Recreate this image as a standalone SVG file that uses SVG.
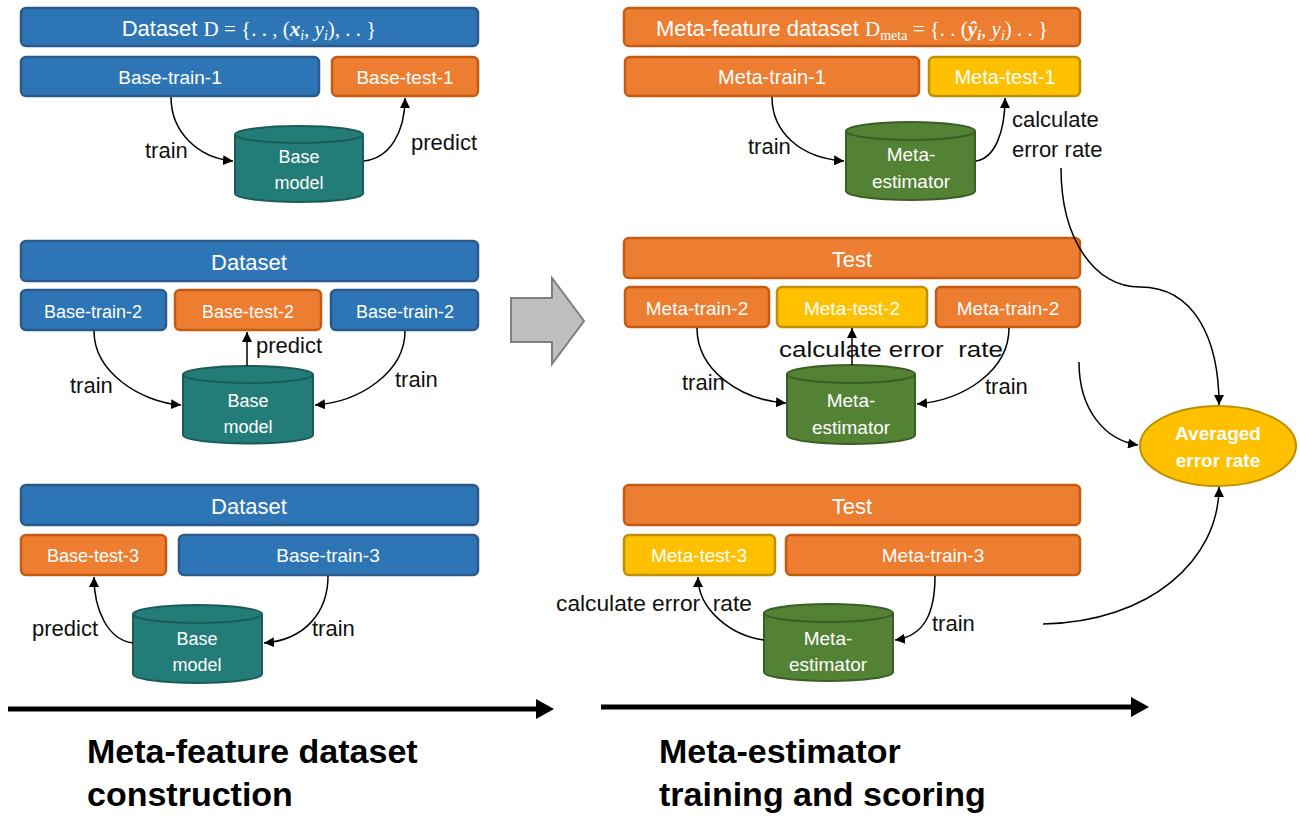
<svg xmlns="http://www.w3.org/2000/svg" width="1300" height="818" viewBox="0 0 1300 818">
<defs>
<marker id="ah" viewBox="0 0 10 10" refX="10" refY="5" markerWidth="10" markerHeight="10" markerUnits="userSpaceOnUse" orient="auto">
<path d="M0,0 L10,5 L0,10 z" fill="#000"/>
</marker>
<style>
.blue{fill:#2E75B6;stroke:#2A5A8C;stroke-width:2.5}
.orange{fill:#ED7D31;stroke:#C55A11;stroke-width:2.5}
.yellow{fill:#FFC000;stroke:#BF9000;stroke-width:2.5}
.teal{fill:#237C77;stroke:#1A5C58;stroke-width:2}
.green{fill:#548235;stroke:#3B5E25;stroke-width:2}
.wt{font-family:"Liberation Sans",Arial,sans-serif;fill:#fff;text-anchor:middle}
.bt{font-family:"Liberation Sans",Arial,sans-serif;fill:#111;font-size:22px}
.math{font-family:"Liberation Serif","DejaVu Serif",serif}
.con{fill:none;stroke:#000;stroke-width:1.5;marker-end:url(#ah)}
.big{font-family:"Liberation Sans",Arial,sans-serif;font-weight:bold;font-size:34px;fill:#000}
</style>
</defs>

<g id="left-set-1">
<rect class="blue" x="21" y="8" width="457" height="38" rx="5"/>
<text class="wt" x="249" y="36" font-size="22">Dataset <tspan class="math" font-size="21">D = {. . , (<tspan font-style="italic" font-weight="bold">x</tspan><tspan font-style="italic" font-size="14" dy="4">i</tspan><tspan dy="-4">, </tspan><tspan font-style="italic">y</tspan><tspan font-style="italic" font-size="14" dy="4">i</tspan><tspan dy="-4">), . . }</tspan></tspan></text>
<rect class="blue" x="21" y="57" width="298" height="39" rx="5"/>
<text class="wt" x="170" y="84" font-size="19">Base-train-1</text>
<rect class="orange" x="332" y="57" width="146" height="39" rx="5"/>
<text class="wt" x="405" y="84" font-size="19">Base-test-1</text>
</g>
<g id="base-model-1">
<path class="teal" d="M235,134.5 L235,193.5 A64,8.5 0 0 0 363,193.5 L363,134.5 A64,8.5 0 0 0 235,134.5 A64,8.5 0 0 0 363,134.5"/>
<text class="wt" x="299" y="163" font-size="18">Base</text>
<text class="wt" x="299" y="189" font-size="18">model</text>
</g>

<g id="right-set-1">
<rect class="orange" x="624" y="8" width="456" height="38" rx="5"/>
<text class="wt" x="852" y="36" font-size="22">Meta-feature dataset <tspan class="math" font-size="21">D<tspan font-size="14" dy="4">meta</tspan><tspan dy="-4"> = {. . (</tspan><tspan font-style="italic" font-weight="bold">ŷ</tspan><tspan font-style="italic" font-weight="bold" font-size="14" dy="4">i</tspan><tspan dy="-4">, </tspan><tspan font-style="italic">y</tspan><tspan font-style="italic" font-size="14" dy="4">i</tspan><tspan dy="-4">) . . }</tspan></tspan></text>
<rect class="orange" x="625" y="57" width="294" height="39" rx="5"/>
<text class="wt" x="772" y="84" font-size="20">Meta-train-1</text>
<rect class="yellow" x="929" y="57" width="151" height="39" rx="5"/>
<text class="wt" x="1005" y="84" font-size="20">Meta-test-1</text>
</g>
<g id="meta-estimator-1">
<path class="green" d="M846,131 L846,191 A64.5,9 0 0 0 975,191 L975,131 A64.5,9 0 0 0 846,131 A64.5,9 0 0 0 975,131"/>
<text class="wt" x="911" y="161" font-size="19">Meta-</text>
<text class="wt" x="911" y="188" font-size="19">estimator</text>
</g>

<g id="left-set-2">
<rect class="blue" x="21" y="241" width="457" height="40" rx="5"/>
<text class="wt" x="249" y="270" font-size="22">Dataset</text>
<rect class="blue" x="21" y="290" width="145" height="40" rx="5"/>
<text class="wt" x="93" y="318" font-size="18">Base-train-2</text>
<rect class="orange" x="175" y="290" width="146" height="40" rx="5"/>
<text class="wt" x="248" y="318" font-size="18">Base-test-2</text>
<rect class="blue" x="331" y="290" width="147" height="40" rx="5"/>
<text class="wt" x="405" y="318" font-size="18">Base-train-2</text>
</g>
<g id="base-model-2">
<path class="teal" d="M183,374.5 L183,435 A65,8.5 0 0 0 313,435 L313,374.5 A65,8.5 0 0 0 183,374.5 A65,8.5 0 0 0 313,374.5"/>
<text class="wt" x="248" y="407" font-size="18">Base</text>
<text class="wt" x="248" y="433" font-size="18">model</text>
</g>

<g id="right-set-2">
<rect class="orange" x="624" y="238" width="456" height="40" rx="5"/>
<text class="wt" x="852" y="267" font-size="22">Test</text>
<rect class="orange" x="625" y="287" width="144" height="40" rx="5"/>
<text class="wt" x="697" y="315" font-size="19">Meta-train-2</text>
<rect class="yellow" x="777" y="287" width="150" height="40" rx="5"/>
<text class="wt" x="852" y="315" font-size="19">Meta-test-2</text>
<rect class="orange" x="936" y="287" width="144" height="40" rx="5"/>
<text class="wt" x="1008" y="315" font-size="19">Meta-train-2</text>
</g>
<g id="meta-estimator-2">
<path class="green" d="M787,374 L787,435 A64,9 0 0 0 915,435 L915,374 A64,9 0 0 0 787,374 A64,9 0 0 0 915,374"/>
<text class="wt" x="851" y="407" font-size="19">Meta-</text>
<text class="wt" x="851" y="434" font-size="19">estimator</text>
</g>

<g id="left-set-3">
<rect class="blue" x="21" y="485" width="457" height="40" rx="5"/>
<text class="wt" x="249" y="514" font-size="22">Dataset</text>
<rect class="orange" x="21" y="535" width="145" height="40" rx="5"/>
<text class="wt" x="93" y="562" font-size="18">Base-test-3</text>
<rect class="blue" x="179" y="535" width="299" height="40" rx="5"/>
<text class="wt" x="328" y="562" font-size="19">Base-train-3</text>
</g>
<g id="base-model-3">
<path class="teal" d="M133,614 L133,674 A64.5,9 0 0 0 262,674 L262,614 A64.5,9 0 0 0 133,614 A64.5,9 0 0 0 262,614"/>
<text class="wt" x="197" y="645" font-size="18">Base</text>
<text class="wt" x="197" y="671" font-size="18">model</text>
</g>

<g id="right-set-3">
<rect class="orange" x="624" y="485" width="456" height="40" rx="5"/>
<text class="wt" x="852" y="514" font-size="22">Test</text>
<rect class="yellow" x="624" y="535" width="151" height="40" rx="5"/>
<text class="wt" x="699" y="562" font-size="19">Meta-test-3</text>
<rect class="orange" x="786" y="535" width="294" height="40" rx="5"/>
<text class="wt" x="933" y="562" font-size="19">Meta-train-3</text>
</g>
<g id="meta-estimator-3">
<path class="green" d="M764,613 L764,672 A64.5,9 0 0 0 893,672 L893,613 A64.5,9 0 0 0 764,613 A64.5,9 0 0 0 893,613"/>
<text class="wt" x="828" y="645" font-size="19">Meta-</text>
<text class="wt" x="828" y="671" font-size="19">estimator</text>
</g>

<g id="averaged-error-rate">
<ellipse cx="1218" cy="446" rx="78" ry="40" fill="#FFC000" stroke="#BF9000" stroke-width="2"/>
<text class="wt" x="1218" y="440" font-size="19" font-weight="bold">Averaged</text>
<text class="wt" x="1218" y="467" font-size="19" font-weight="bold">error rate</text>
</g>

<g id="transition-arrow">
<polygon points="511,298 552,298 552,278 584,321 552,364 552,342 511,342" fill="#BFBFBF" stroke="#7F7F7F" stroke-width="2"/>
</g>

<g id="connectors">
<path class="con" d="M171,97 C171,132 198,158 233,161"/>
<path class="con" d="M364,161 C390,158 405,132 405,98"/>
<path class="con" d="M772,97 C772,132 800,158 844,161"/>
<path class="con" d="M976,161 C995,158 1005,132 1005,98"/>
<path class="con" d="M94,331 C94,372 140,402 181,405"/>
<path class="con" d="M405,331 C405,372 360,402 315,405"/>
<path class="con" d="M247,366 L247,332"/>
<path class="con" d="M697,328 C697,370 740,400 786,403"/>
<path class="con" d="M1009,328 C1009,370 965,400 917,404"/>
<path class="con" d="M852,365 L852,328"/>
<path class="con" d="M133,643 C108,640 94,610 94,577"/>
<path class="con" d="M328,576 C328,612 305,640 264,643"/>
<path class="con" d="M764,640 C732,636 698,610 698,577"/>
<path class="con" d="M935,576 C935,612 925,636 895,640"/>
<path class="con" d="M1061,168 C1061,240 1095,287 1140,287 C1195,287 1219,340 1219,405"/>
<path class="con" d="M1079,362 C1079,410 1105,440 1138,445"/>
<path class="con" d="M1043,624 C1150,622 1219,560 1219,487"/>
</g>

<g id="connector-labels">
<text class="bt" x="145" y="158">train</text>
<text class="bt" x="411" y="150">predict</text>
<text class="bt" x="748" y="154">train</text>
<text class="bt" x="1012" y="127">calculate</text>
<text class="bt" x="1012" y="157">error rate</text>
<text class="bt" x="256" y="353">predict</text>
<text class="bt" x="70" y="393">train</text>
<text class="bt" x="395" y="387">train</text>
<text class="bt" x="779" y="357" textLength="224" lengthAdjust="spacingAndGlyphs" font-size="24">calculate error&#160; rate</text>
<text class="bt" x="682" y="390">train</text>
<text class="bt" x="985" y="394">train</text>
<text class="bt" x="32" y="636">predict</text>
<text class="bt" x="312" y="636">train</text>
<text class="bt" x="556" y="611" textLength="196" lengthAdjust="spacingAndGlyphs" font-size="22">calculate error&#160; rate</text>
<text class="bt" x="932" y="631">train</text>
</g>

<g id="timeline">
<line x1="8" y1="709" x2="538" y2="709" stroke="#000" stroke-width="5"/>
<polygon points="536,699 554,709 536,719" fill="#000"/>
<line x1="601" y1="707" x2="1133" y2="707" stroke="#000" stroke-width="5"/>
<polygon points="1131,697 1149,707 1131,717" fill="#000"/>
<text class="big" x="87" y="763">Meta-feature dataset</text>
<text class="big" x="87" y="806">construction</text>
<text class="big" x="659" y="763">Meta-estimator</text>
<text class="big" x="659" y="806">training and scoring</text>
</g>
</svg>
